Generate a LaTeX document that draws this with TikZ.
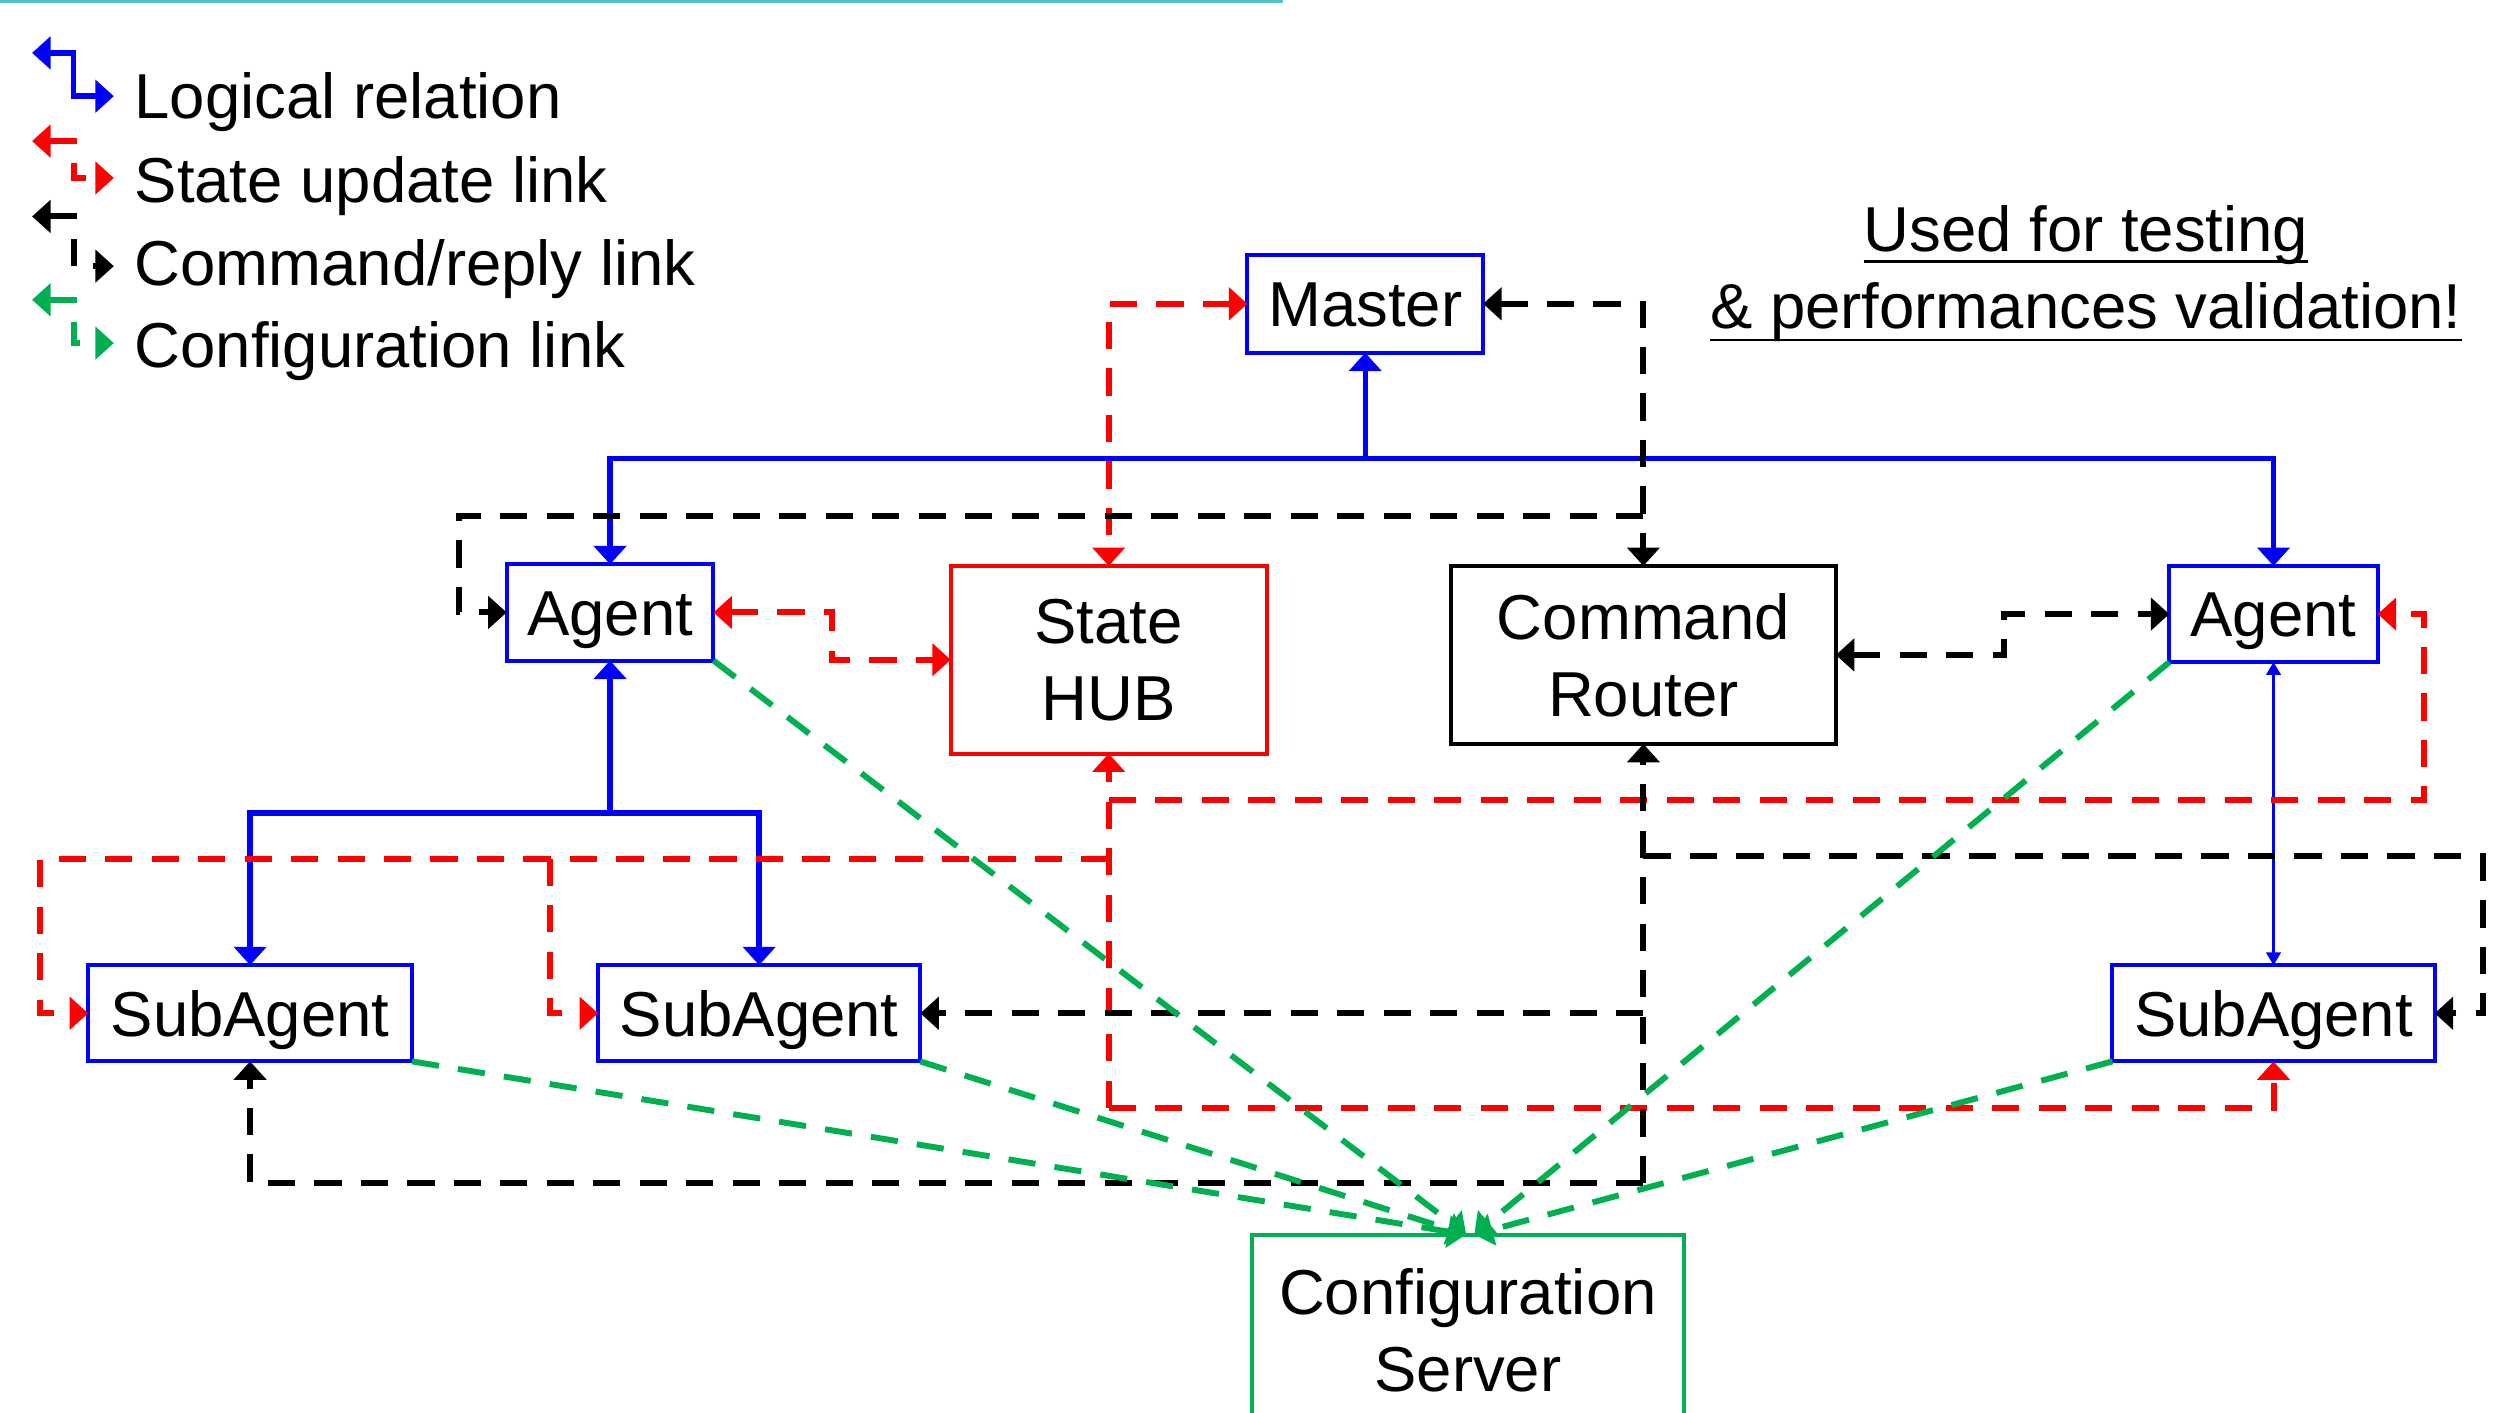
\documentclass[tikz,border=0pt]{standalone}
\usepackage{fontspec}
\setmainfont{Liberation Sans}
\usetikzlibrary{arrows.meta,calc}

\definecolor{cfggreen}{RGB}{0,176,80}
\definecolor{rulecyan}{RGB}{80,196,196}

\begin{document}
\begin{tikzpicture}[x=0.5pt,y=-0.5pt,
  >={Triangle[length=5.75pt,width=10pt]},
  every node/.style={font=\fontsize{19.8}{24}\selectfont, inner sep=0pt, outer sep=0pt},
  onebox/.style={rectangle, draw, line width=1.25pt, text height=14.2pt, text depth=0pt},
  twobox/.style={rectangle, draw, line width=1.25pt, align=center},
  legendtext/.style={anchor=base west},
  logic/.style={draw=blue, line width=1.7pt},
  logicthin/.style={draw=blue, line width=1pt, >={Triangle[length=4pt,width=4.5pt]}},
  linkdash/.style={line width=1.85pt, dash pattern=on 8.5pt off 6pt},
  state/.style={linkdash, draw=red},
  cmd/.style={linkdash, draw=black},
  conf/.style={linkdash, draw=cfggreen},
]
\useasboundingbox (0,0) rectangle (1568,881);
\clip (0,0) rectangle (1568,881);

% header rule
\coordinate (ruleA) at (0,0.9);
\coordinate (ruleB) at (800,0.9);
\draw[rulecyan, line width=0.9pt] (ruleA) -- (ruleB);

% legend
\coordinate (lgA1) at (20,33);  \coordinate (lgB1) at (71,60);
\coordinate (lgA2) at (20,88);  \coordinate (lgB2) at (71,111);
\coordinate (lgA3) at (20,135); \coordinate (lgB3) at (71,166);
\coordinate (lgA4) at (20,187); \coordinate (lgB4) at (71,214);
\draw[logic,<->] (lgA1) -| ($(lgB1)+(-25,0)$) -- (lgB1);
\draw[state,<->] (lgA2) -| ($(lgB2)+(-25,0)$) -- (lgB2);
\draw[cmd,<->]   (lgA3) -| ($(lgB3)+(-25,0)$) -- (lgB3);
\draw[conf,<->]  (lgA4) -| ($(lgB4)+(-25,0)$) -- (lgB4);
\node[legendtext] (lgT1) at (84,74)  {Logical relation};
\node[legendtext] (lgT2) at (84,126) {State update link};
\node[legendtext] (lgT3) at (84,178) {Command/reply link};
\node[legendtext] (lgT4) at (84,229) {Configuration link};

% note
\node[anchor=base] (note1) at (1301,157) {Used for testing};
\node[anchor=base] (note2) at (1301,205) {\& performances validation!};
\draw[line width=0.85pt] ($(note1.base west)+(0,6)$) -- ($(note1.base east)+(0,6)$);
\draw[line width=0.85pt] ($(note2.base west)+(0,7)$) -- ($(note2.base east)+(0,7)$);

% components
\node[onebox, draw=blue, minimum width=73.5pt, minimum height=30.5pt] (master) at (851.5,189.5) {Master};
\node[onebox, draw=blue, minimum width=64.5pt, minimum height=30pt] (agentL) at (380.5,382) {Agent};
\node[twobox, draw=red, minimum width=98.5pt, minimum height=58.5pt] (hub) at (691.5,411.5) {State\\HUB};
\node[twobox, draw=black, minimum width=120pt, minimum height=55.5pt] (router) at (1025,408.5) {Command\\Router};
\node[onebox, draw=blue, minimum width=65pt, minimum height=30pt] (agentR) at (1418,383) {Agent};
\node[onebox, draw=blue, minimum width=101pt, minimum height=30pt] (sub1) at (156,632) {SubAgent};
\node[onebox, draw=blue, minimum width=100.5pt, minimum height=30pt] (sub2) at (473.5,632) {SubAgent};
\node[onebox, draw=blue, minimum width=100.5pt, minimum height=30pt] (sub3) at (1418,632) {SubAgent};
\node[twobox, draw=cfggreen, minimum width=134.5pt, minimum height=60pt] (cfg) at (915.5,830) {Configuration\\Server};

% logical relations
\coordinate (busTop) at (master.south |- 0,286);
\draw[logic,->] (busTop) -- (master.south);
\draw[logic,->] (busTop) -| (agentL.north);
\draw[logic,->] (busTop) -| (agentR.north);
\coordinate (busL) at (agentL.south |- 0,507);
\draw[logic,->] (busL) -- (agentL.south);
\draw[logic,->] (busL) -| (sub1.north);
\draw[logic,->] (busL) -| (sub2.north);
\draw[logicthin,<->] (agentR.south) -- (sub3.north);

% state update links
\draw[state,<->] (master.west) -| (hub.north);
\draw[state,<->] (agentL.east) -- ++(74,0) |- (hub.west);
\coordinate (hubA) at (hub.south |- 0,536);
\coordinate (hubB) at (hub.south |- 0,499);
\coordinate (hubC) at (hub.south |- 0,691);
\draw[state,->] (hubC) -- (hub.south);
\draw[state,->] (hubA) -| ($(sub1.west)+(-30,0)$) -- (sub1.west);
\draw[state,->] (hubA) -| ($(sub2.west)+(-30,0)$) -- (sub2.west);
\draw[state,->] (hubB) -| ($(agentR.east)+(29,0)$) -- (agentR.east);
\draw[state,->] (hubC) -| (sub3.south);

% command / reply links
\draw[cmd,<->] (master.east) -| (router.north);
\coordinate (cmdTop) at (router.north |- 0,322);
\draw[cmd,->] (cmdTop) -| ($(agentL.west)+(-30,0)$) -- (agentL.west);
\draw[cmd,<->] (router.east) -- ++(105,0) |- (agentR.west);
\coordinate (cmdB) at (router.south |- 0,738);
\coordinate (cmdM) at (router.south |- sub2.east);
\coordinate (cmdR) at (router.south |- 0,534);
\draw[cmd,->] (cmdB) -- (router.south);
\draw[cmd,->] (cmdB) -| (sub1.south);
\draw[cmd,->] (cmdM) -- (sub2.east);
\draw[cmd,->] (cmdR) -| ($(sub3.east)+(30,0)$) -- (sub3.east);

% configuration links
\coordinate (cfgL) at ($(cfg.north)+(-1,0)$);
\coordinate (cfgR) at ($(cfg.north)+(4,0)$);
\draw[conf,->] (agentL.south east) -- (cfgL);
\draw[conf,->] (sub1.south east) -- (cfgL);
\draw[conf,->] (sub2.south east) -- (cfgL);
\draw[conf,->] (agentR.south west) -- (cfgR);
\draw[conf,->] (sub3.south west) -- (cfgR);
\end{tikzpicture}
\end{document}
